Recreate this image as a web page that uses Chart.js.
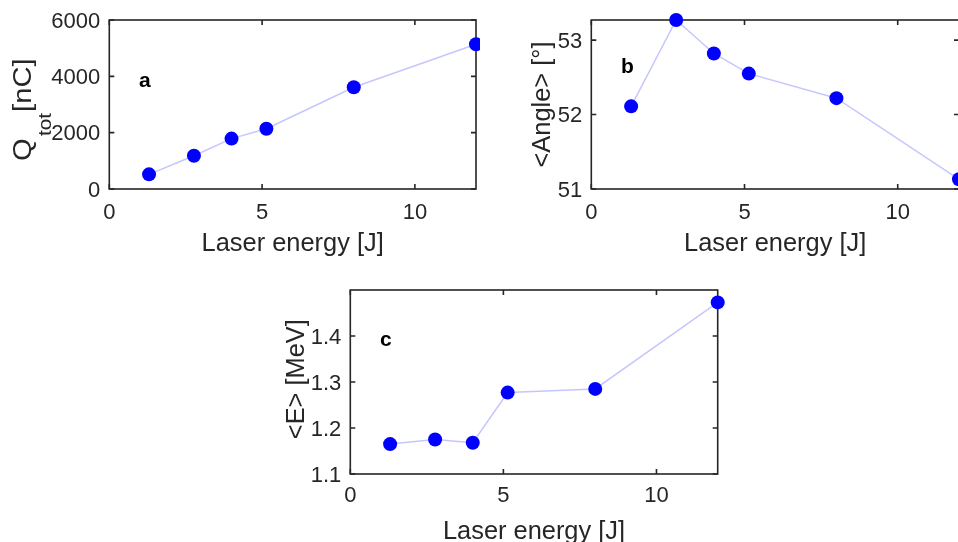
<!DOCTYPE html>
<html>
<head>
<meta charset="utf-8">
<script src="https://cdn.jsdelivr.net/npm/chart.js@4"></script>
<style>
  html, body { margin: 0; padding: 0; background: #fff; overflow: hidden; width: 958px; height: 542px; }
  canvas { position: absolute; }
</style>
</head>
<body>
<canvas id="chartA" width="480" height="270" style="left:0;top:0"></canvas>
<canvas id="chartB" width="500" height="270" style="left:480px;top:0"></canvas>
<canvas id="chartC" width="500" height="272" style="left:240px;top:270px"></canvas>
<script>
// laser energy [J], shared by all three panels
const energy = [1.3, 2.77, 4.0, 5.14, 8.0, 12.0];
const charge = [520, 1180, 1790, 2140, 3610, 5140];      // Q_tot [nC]
const angle  = [52.11, 53.27, 52.82, 52.55, 52.22, 51.13]; // <Angle> [deg]
const meanE  = [1.165, 1.175, 1.168, 1.277, 1.285, 1.473]; // <E> [MeV]

const xTicks = [0, 5, 10];
const chargeTicks = [0, 2000, 4000, 6000];
const angleTicks = [51, 52, 53];
const energyTicks = [1.1, 1.2, 1.3, 1.4];

const INK = '#262626';
const FONT = '"Liberation Sans", Arial, sans-serif';

// box around the axes with inward tick marks on all four sides
const boxPlugin = {
  id: 'box',
  beforeDatasetsDraw(chart) {
    const { ctx, chartArea: a, scales } = chart;
    ctx.save();
    ctx.strokeStyle = INK;
    ctx.lineWidth = 1.6;
    ctx.beginPath();
    const tl = 5;
    scales.x.ticks.forEach(t => {
      const px = scales.x.getPixelForValue(t.value);
      ctx.moveTo(px, a.bottom); ctx.lineTo(px, a.bottom - tl);
      ctx.moveTo(px, a.top); ctx.lineTo(px, a.top + tl);
    });
    scales.y.ticks.forEach(t => {
      const py = scales.y.getPixelForValue(t.value);
      ctx.moveTo(a.left, py); ctx.lineTo(a.left + tl, py);
      ctx.moveTo(a.right, py); ctx.lineTo(a.right - tl, py);
    });
    ctx.stroke();
    ctx.strokeRect(a.left, a.top, a.right - a.left, a.bottom - a.top);
    ctx.restore();
  }
};

// axis titles and panel letters
const textPlugin = {
  id: 'texts',
  afterDraw(chart, args, opts) {
    const { ctx, chartArea: a, scales } = chart;
    ctx.save();
    ctx.fillStyle = INK;
    ctx.textBaseline = 'alphabetic';
    ctx.font = '25.4px ' + FONT;
    ctx.textAlign = 'center';
    ctx.fillText('Laser energy [J]', (a.left + a.right) / 2, a.bottom + opts.xTitleOffset);

    (opts.yTitle || []).forEach(p => {
      ctx.save();
      ctx.font = p.font + ' ' + FONT;
      ctx.textAlign = p.align || 'left';
      ctx.translate(a.left + p.dx, p.y);
      ctx.rotate(-Math.PI / 2);
      ctx.scale(p.sx || 1, 1);
      ctx.fillText(p.text, 0, 0);
      ctx.restore();
    });

    ctx.fillStyle = '#000';
    ctx.font = 'bold 21px ' + FONT;
    ctx.textAlign = 'left';
    ctx.fillText(opts.letter.text,
      scales.x.getPixelForValue(opts.letter.x),
      scales.y.getPixelForValue(opts.letter.y));
    ctx.restore();
  }
};

// area: left edge, top, right margin, bottom margin of the plot box inside the canvas
function makePanel(id, values, yMin, yMax, yTicks, yFmt, area, xTickPad, extra) {
  const points = energy.map((e, i) => ({ x: e, y: values[i] }));
  return new Chart(document.getElementById(id), {
    type: 'line',
    data: {
      datasets: [{
        data: points,
        borderColor: '#c6c6ff',
        borderWidth: 1.5,
        pointRadius: 7,
        pointHoverRadius: 7,
        pointBackgroundColor: '#0000ff',
        pointBorderColor: '#0000ff',
        pointBorderWidth: 0,
        tension: 0,
        clip: false
      }]
    },
    options: {
      responsive: false,
      animation: false,
      devicePixelRatio: 1,
      layout: { autoPadding: false, padding: { left: 0, bottom: 0, top: area.top, right: area.right } },
      plugins: {
        legend: { display: false },
        tooltip: { enabled: false },
        texts: extra
      },
      scales: {
        x: {
          type: 'linear',
          min: 0, max: 12,
          grid: { display: false, drawTicks: false },
          border: { display: false },
          afterFit: s => { s.height = area.bottom; },
          afterBuildTicks: s => { s.ticks = xTicks.map(v => ({ value: v })); },
          ticks: {
            color: INK,
            font: { family: FONT, size: 22, lineHeight: 1 },
            padding: xTickPad,
            maxRotation: 0,
            autoSkip: false,
            callback: v => String(v)
          }
        },
        y: {
          type: 'linear',
          min: yMin, max: yMax,
          grid: { display: false, drawTicks: false },
          border: { display: false },
          afterFit: s => { s.width = area.left; },
          afterBuildTicks: s => { s.ticks = yTicks.map(v => ({ value: v })); },
          ticks: {
            color: INK,
            font: { family: FONT, size: 22, lineHeight: 1 },
            padding: 9,
            labelOffset: 1.5,
            autoSkip: false,
            callback: yFmt
          }
        }
      }
    },
    plugins: [boxPlugin, textPlugin]
  });
}

makePanel('chartA', charge, 0, 6000, chargeTicks, v => String(v),
  { left: 109.3, top: 19.5, right: 4, bottom: 81 }, 12.8, {
    xTitleOffset: 62,
    yTitle: [
      { text: 'Q', font: '25px', dx: -78.3, y: 161, sx: 1.17 },
      { text: 'tot', font: '18px', dx: -58.3, y: 136, sx: 1.15 },
      { text: '[nC]', font: '25px', dx: -78.3, y: 112, sx: 1.17 }
    ],
    letter: { text: 'a', x: 0.97, y: 3635 }
  });

makePanel('chartB', angle, 51, 53.27, angleTicks, v => String(v),
  { left: 111.3, top: 20, right: 21, bottom: 81 }, 12.8, {
    xTitleOffset: 62,
    yTitle: [
      { text: '<Angle> [°]', font: '25.4px', dx: -41.3, y: 104.5, align: 'center' }
    ],
    letter: { text: 'b', x: 0.97, y: 52.56 }
  });

makePanel('chartC', meanE, 1.1, 1.5, energyTicks, v => v.toFixed(1),
  { left: 110.3, top: 14.3, right: 22.3, bottom: 68 }, 11.1, {
    xTitleOffset: 64.5,
    yTitle: [
      { text: '<E> [MeV]', font: '25.4px', dx: -46.8, y: 109.2, align: 'center' }
    ],
    letter: { text: 'c', x: 0.97, y: 1.379 }
  });
</script>
</body>
</html>
